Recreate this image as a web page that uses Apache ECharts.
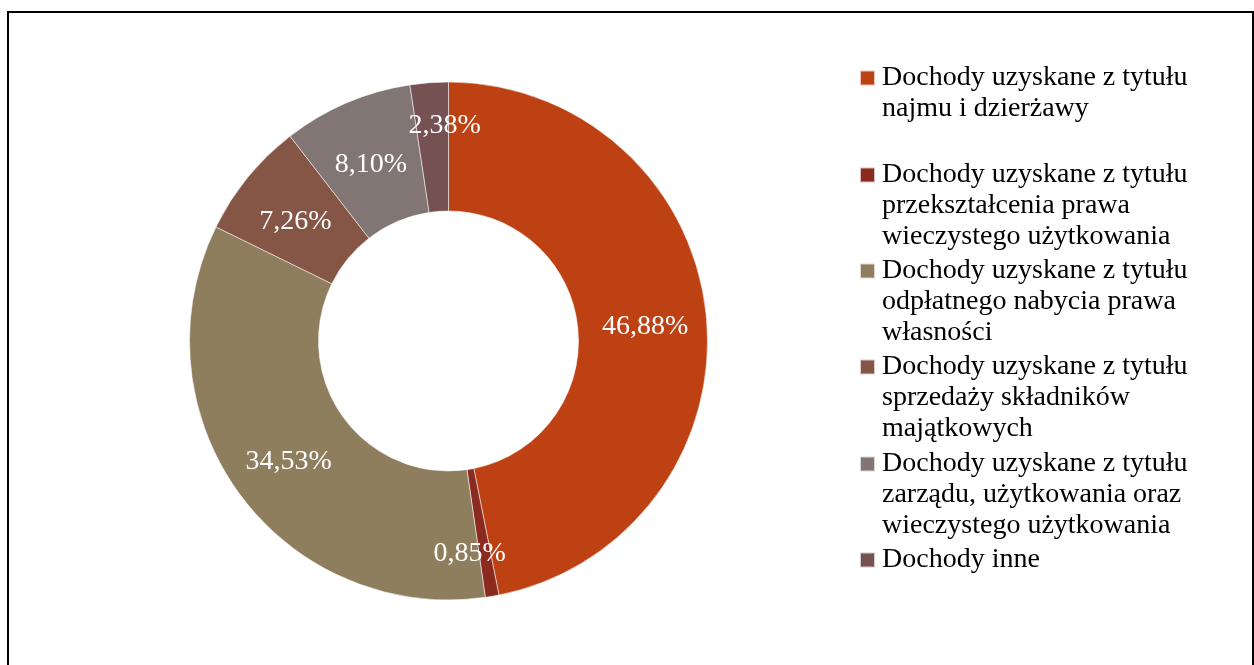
<!DOCTYPE html>
<html>
<head>
<meta charset="utf-8">
<script src="https://cdn.jsdelivr.net/npm/echarts@6/dist/echarts.min.js"></script>
<style>
    html, body { margin: 0; padding: 0; background: #fff; }
    #main { width: 1254px; height: 665px; }
</style>
</head>
<body>
<div id="main"></div>
<script>
let categories = [
    'Dochody uzyskane z tytułu\nnajmu i dzierżawy',
    'Dochody uzyskane z tytułu\nprzekształcenia prawa\nwieczystego użytkowania',
    'Dochody uzyskane z tytułu\nodpłatnego nabycia prawa\nwłasności',
    'Dochody uzyskane z tytułu\nsprzedaży składników\nmajątkowych',
    'Dochody uzyskane z tytułu\nzarządu, użytkowania oraz\nwieczystego użytkowania',
    'Dochody inne'
];
let shares = [46.88, 0.85, 34.53, 7.26, 8.10, 2.38];
let colors = ['#BE4114', '#8B2A1E', '#8F7E5E', '#855546', '#827675', '#765152'];

// first line of every legend entry, in px from the top
let legendRows = [78, 175, 271, 367, 464, 560];
let lineH = 31;
let font = 'Liberation Serif';

// excel nudges the two thin slices' labels, copy that
let labelShift = [[0, 5], [-12, 18], [0, 5], [0, 5], [0, 5], [11, -18]];

let chart = echarts.init(document.getElementById('main'));

let legends = [];
for (let i = 0; i < categories.length; i++) {
    let n = categories[i].split('\n').length;
    legends.push({
        data: [categories[i]],
        orient: 'vertical',
        left: 859,
        top: legendRows[i] - (2 * n - 1) * lineH / 2,
        padding: 0,
        icon: 'rect',
        itemWidth: 15,
        itemHeight: 15,
        // blank lines on top so the marker sits on the first line
        formatter: function (name) {
            return '\n'.repeat(n - 1) + name;
        },
        textStyle: {
            color: '#000',
            fontSize: 28,
            fontFamily: font,
            lineHeight: lineH,
            padding: [0, 0, 0, 2]
        }
    });
}

let pieData = [];
for (let i = 0; i < categories.length; i++) {
    pieData.push({ name: categories[i], value: shares[i] });
}

let option = {
    animation: false,
    color: colors,
    graphic: [{
        type: 'rect',
        shape: { x: 8, y: 12, width: 1245, height: 700 },
        style: { fill: 'none', stroke: '#000', lineWidth: 2 },
        silent: true
    }],
    legend: legends,
    series: [{
        type: 'pie',
        center: [448.5, 341],
        radius: [130, 259],
        startAngle: 90,
        clockwise: true,
        avoidLabelOverlap: false,
        data: pieData,
        itemStyle: {
            borderColor: 'rgba(255,255,255,0.7)',
            borderWidth: 0.75
        },
        label: {
            show: true,
            position: 'inside',
            color: '#fff',
            fontSize: 28,
            fontFamily: font,
            formatter: function (p) {
                return p.value.toFixed(2).replace('.', ',') + '%';
            }
        },
        labelLayout: function (p) {
            return {
                dx: labelShift[p.dataIndex][0],
                dy: labelShift[p.dataIndex][1],
                hideOverlap: false
            };
        },
        labelLine: { show: false },
        emphasis: { disabled: true }
    }]
};
chart.setOption(option);
</script>
</body>
</html>
